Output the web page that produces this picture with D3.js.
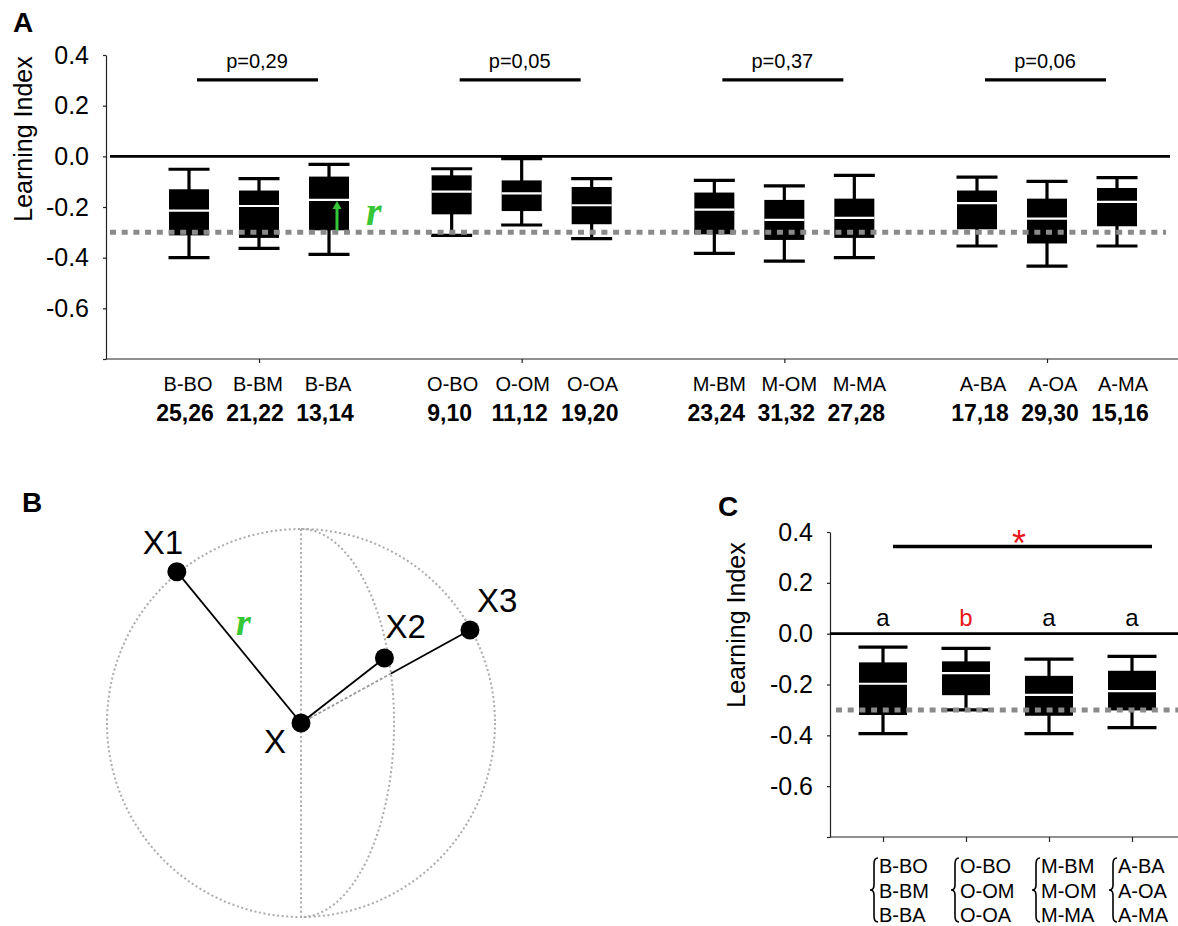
<!DOCTYPE html>
<html><head><meta charset="utf-8">
<script src="https://cdn.jsdelivr.net/npm/d3@7"></script>
<style>
body{margin:0;background:#fff}
svg{display:block}
text{font-family:"Liberation Sans",Arial,Helvetica,sans-serif}
</style>
</head><body>
<svg id="chart" width="1178" height="926"></svg>
<script>
// ---------------- DATA ----------------
// Panel A
const groupsA = ["B", "O", "M", "A"];
const categoriesA = ["B-BO","B-BM","B-BA","O-BO","O-OM","O-OA","M-BM","M-OM","M-MA","A-BA","A-OA","A-MA"];
const sampleIdsA = ["25,26","21,22","13,14","9,10","11,12","19,20","23,24","31,32","27,28","17,18","29,30","15,16"];
const whiskerHighA = [-0.051,-0.088,-0.032,-0.049,-0.009,-0.088,-0.095,-0.117,-0.075,-0.082,-0.099,-0.084];
const q3A          = [-0.130,-0.135,-0.080,-0.075,-0.095,-0.121,-0.143,-0.172,-0.167,-0.135,-0.167,-0.125];
const medianA      = [-0.214,-0.196,-0.172,-0.139,-0.146,-0.193,-0.210,-0.251,-0.243,-0.185,-0.246,-0.180];
const q1A          = [-0.312,-0.322,-0.292,-0.229,-0.216,-0.268,-0.308,-0.330,-0.322,-0.288,-0.344,-0.276];
const whiskerLowA  = [-0.400,-0.363,-0.387,-0.312,-0.271,-0.325,-0.383,-0.414,-0.400,-0.354,-0.433,-0.354];
const pValuesA = ["p=0,29","p=0,05","p=0,37","p=0,06"];

// Shared axis ticks
const yTickValues = [0.4, 0.2, 0.0, -0.2, -0.4, -0.6, -0.8];
const yTickLabels = ["0.4","0.2","0.0","-0.2","-0.4","-0.6",""];
const chanceLevel = -0.3;
const yLabel = "Learning Index";

// Panel C
const groupsC = ["B", "O", "M", "A"];
const whiskerHighC = [-0.053,-0.058,-0.100,-0.089];
const q3C          = [-0.113,-0.109,-0.166,-0.146];
const medianC      = [-0.197,-0.155,-0.241,-0.226];
const q1C          = [-0.320,-0.242,-0.323,-0.302];
const whiskerLowC  = [-0.393,-0.300,-0.393,-0.370];
const lettersC = ["a","b","a","a"];
const letterColorsC = ["#000","#e8171b","#000","#000"];
const memberLabelsC = [["B-BO","B-BM","B-BA"],["O-BO","O-OM","O-OA"],["M-BM","M-OM","M-MA"],["A-BA","A-OA","A-MA"]];

// Panel B (diagram, unit-circle coordinates)
const nodeNames = ["X","X1","X2","X3"];
const nodeUx = [0, -0.64, 0.43, 0.871];
const nodeUy = [0, 0.78, 0.335, 0.479];

// ---------------- DRAW ----------------
const svg = d3.select("#chart");
const GREEN = "#35c735";
const DOT_GRAY = "#8a8a8a";

function drawYAxis(g, y, x0) {
  const ax = g.append("g").attr("transform", `translate(${x0},0)`)
    .call(d3.axisLeft(y).tickValues(yTickValues)
      .tickFormat((d, i) => yTickLabels[i]).tickSize(3).tickSizeOuter(0).tickPadding(14));
  ax.select(".domain").attr("stroke", "#222").attr("stroke-width", 1.2);
  ax.selectAll(".tick line").attr("stroke", "#222").attr("stroke-width", 1.2);
  ax.selectAll(".tick text").attr("font-size", 25).attr("fill", "#000")
    .style("font-family", '"Liberation Sans",Arial,sans-serif');
}

function drawBoxes(g, xs, y, wh, q3, med, q1, wl, w, capW) {
  const n = xs.length;
  for (let i = 0; i < n; i++) {
    const cx = xs[i];
    g.append("line").attr("x1", cx).attr("x2", cx).attr("y1", y(wh[i])).attr("y2", y(wl[i]))
      .attr("stroke", "#000").attr("stroke-width", 3.2);
    [wh[i], wl[i]].forEach(v => {
      g.append("line").attr("x1", cx - capW/2).attr("x2", cx + capW/2)
        .attr("y1", y(v)).attr("y2", y(v)).attr("stroke", "#000").attr("stroke-width", 3.2);
    });
    g.append("rect").attr("x", cx - w/2).attr("width", w)
      .attr("y", y(q3[i])).attr("height", y(q1[i]) - y(q3[i])).attr("fill", "#000");
    g.append("line").attr("x1", cx - w/2).attr("x2", cx + w/2)
      .attr("y1", y(med[i])).attr("y2", y(med[i])).attr("stroke", "#fff").attr("stroke-width", 2.2);
  }
}

// ===== Panel A =====
const gA = svg.append("g");
const yA = d3.scaleLinear().domain([-0.8, 0.4]).range([359, 55]);
const gxA = d3.scalePoint().domain(groupsA).range([259, 1047]);
const subX = d3.scalePoint().domain([0, 1, 2]).range([-70, 70]);
const xAof = i => gxA(groupsA[Math.floor(i / 3)]) + subX(i % 3);
const xsA = categoriesA.map((c, i) => xAof(i));
const labelShiftA = [-1, 1, 5, 6]; // small per-group text nudges (layout)

gA.append("text").text("A").attr("x", 13).attr("y", 32)
  .attr("font-size", 28).attr("font-weight", "bold");

drawYAxis(gA, yA, 106);
// x axis
gA.append("line").attr("x1", 106).attr("x2", 1178).attr("y1", yA(-0.8)).attr("y2", yA(-0.8))
  .attr("stroke", "#222").attr("stroke-width", 1.2);
const xAxA = gA.append("g").attr("transform", `translate(0,${yA(-0.8)})`)
  .call(d3.axisBottom(gxA).tickSize(4).tickFormat(""));
xAxA.select(".domain").remove();
xAxA.selectAll(".tick line").attr("stroke", "#222").attr("stroke-width", 1.2);

gA.append("text").text(yLabel).attr("transform", `translate(32,139) rotate(-90)`)
  .attr("text-anchor", "middle").attr("font-size", 25);

// zero line
gA.append("line").attr("x1", 110).attr("x2", 1170).attr("y1", yA(0)).attr("y2", yA(0))
  .attr("stroke", "#000").attr("stroke-width", 2.6);

drawBoxes(gA, xsA, yA, whiskerHighA, q3A, medianA, q1A, whiskerLowA, 40, 41);

// chance line
gA.append("line").attr("x1", 110).attr("x2", 1166).attr("y1", yA(chanceLevel)).attr("y2", yA(chanceLevel))
  .attr("stroke", DOT_GRAY).attr("stroke-width", 5).attr("stroke-dasharray", "6,5.7");

// p-value bars
groupsA.forEach((gname, i) => {
  const cx = gxA(gname);
  gA.append("line").attr("x1", cx - 62).attr("x2", cx + 59).attr("y1", yA(0.302)).attr("y2", yA(0.302))
    .attr("stroke", "#000").attr("stroke-width", 3.4);
  gA.append("text").text(pValuesA[i]).attr("x", cx - 2).attr("y", 68)
    .attr("text-anchor", "middle").attr("font-size", 20);
});

// category labels
categoriesA.forEach((c, i) => {
  const sh = labelShiftA[Math.floor(i / 3)];
  gA.append("text").text(c).attr("x", xsA[i] + sh).attr("y", 391)
    .attr("text-anchor", "middle").attr("font-size", 20);
  gA.append("text").text(sampleIdsA[i]).attr("x", xsA[i] + sh - 3).attr("y", 421)
    .attr("text-anchor", "middle").attr("font-size", 23).attr("font-weight", "bold");
});

// green arrow r (from chance level to B-BA median)
{
  const ax = xsA[2] + 8;
  const yb = yA(chanceLevel) - 2, yt = yA(medianA[2]) + 1;
  gA.append("line").attr("x1", ax).attr("x2", ax).attr("y1", yb).attr("y2", yt + 7)
    .attr("stroke", GREEN).attr("stroke-width", 3);
  gA.append("path").attr("d", `M${ax - 4.5},${yt + 8} L${ax},${yt} L${ax + 4.5},${yt + 8} Z`).attr("fill", GREEN);
  gA.append("text").text("r").attr("x", xsA[2] + 37).attr("y", yA(chanceLevel) - 7)
    .attr("font-size", 40).attr("font-weight", "bold").attr("font-style", "italic")
    .style("font-family", '"Liberation Serif","Times New Roman",serif').attr("fill", GREEN);
}

// ===== Panel B =====
const gB = svg.append("g");
gB.append("text").text("B").attr("x", 22).attr("y", 512).attr("font-size", 28).attr("font-weight", "bold");
const R = 194, cxB = 301, cyB = 723;
const ux = d3.scaleLinear().domain([-1, 1]).range([cxB - R, cxB + R]);
const uy = d3.scaleLinear().domain([-1, 1]).range([cyB + R, cyB - R]);
const circGray = "#ababab";
gB.append("circle").attr("cx", ux(0)).attr("cy", uy(0)).attr("r", R)
  .attr("fill", "none").attr("stroke", circGray).attr("stroke-width", 2).attr("stroke-dasharray", "2,2.6");
gB.append("line").attr("x1", ux(0)).attr("x2", ux(0)).attr("y1", uy(1)).attr("y2", uy(-1))
  .attr("stroke", circGray).attr("stroke-width", 2).attr("stroke-dasharray", "2,2.6");
const mer = 0.48; // meridian half-width (unit)
gB.append("path")
  .attr("d", `M${ux(0)},${uy(1)} A${ux(mer) - ux(0)},${R} 0 0 1 ${ux(0)},${uy(-1)}`)
  .attr("fill", "none").attr("stroke", circGray).attr("stroke-width", 2).attr("stroke-dasharray", "2,2.6");

const nodes = nodeNames.map((n, i) => ({ name: n, x: ux(nodeUx[i]), y: uy(nodeUy[i]), u: nodeUx[i], v: nodeUy[i] }));
const [nX, nX1, nX2, nX3] = nodes;
// intersection of X->X3 with meridian
const sInt = 1 / Math.sqrt((nX3.u / mer) ** 2 + nX3.v ** 2);
const ip = { x: ux(nX3.u * sInt), y: uy(nX3.v * sInt) };
gB.append("line").attr("x1", nX.x).attr("y1", nX.y).attr("x2", ip.x).attr("y2", ip.y)
  .attr("stroke", "#9a9a9a").attr("stroke-width", 1.8).attr("stroke-dasharray", "3,2");
gB.append("line").attr("x1", ip.x).attr("y1", ip.y).attr("x2", nX3.x).attr("y2", nX3.y)
  .attr("stroke", "#000").attr("stroke-width", 1.8);
[nX1, nX2].forEach(nd => {
  gB.append("line").attr("x1", nX.x).attr("y1", nX.y).attr("x2", nd.x).attr("y2", nd.y)
    .attr("stroke", "#000").attr("stroke-width", 1.8);
});
nodes.forEach(nd => {
  gB.append("circle").attr("cx", nd.x).attr("cy", nd.y).attr("r", 9.5).attr("fill", "#000");
});
const lab = (t, x, y, anchor) => gB.append("text").text(t).attr("x", x).attr("y", y)
  .attr("font-size", 33).attr("text-anchor", anchor);
lab("X1", nX1.x - 14, nX1.y - 18, "middle");
lab("X2", nX2.x + 1, nX2.y - 20, "start");
lab("X3", nX3.x + 7, nX3.y - 18, "start");
lab("X", nX.x - 15, nX.y + 30, "end");
gB.append("text").text("r").attr("x", (nX.x + nX1.x) / 2 - 3).attr("y", (nX.y + nX1.y) / 2 - 12)
  .attr("font-size", 38).attr("font-weight", "bold").attr("font-style", "italic")
  .style("font-family", '"Liberation Serif","Times New Roman",serif').attr("fill", GREEN);

// ===== Panel C =====
const gC = svg.append("g");
gC.append("text").text("C").attr("x", 718).attr("y", 516).attr("font-size", 28).attr("font-weight", "bold");
const yC = d3.scaleLinear().domain([-0.8, 0.4]).range([837, 532]);
const gxC = d3.scalePoint().domain(groupsC).range([883, 1132]);
const xsC = groupsC.map(g => gxC(g));
drawYAxis(gC, yC, 830);
gC.append("line").attr("x1", 830).attr("x2", 1178).attr("y1", yC(-0.8)).attr("y2", yC(-0.8))
  .attr("stroke", "#222").attr("stroke-width", 1.2);
const xAxC = gC.append("g").attr("transform", `translate(0,${yC(-0.8)})`)
  .call(d3.axisBottom(gxC).tickSize(5).tickFormat(""));
xAxC.select(".domain").remove();
xAxC.selectAll(".tick line").attr("stroke", "#222").attr("stroke-width", 1.2);

gC.append("text").text(yLabel).attr("transform", `translate(745,625) rotate(-90)`)
  .attr("text-anchor", "middle").attr("font-size", 25);

gC.append("line").attr("x1", 830).attr("x2", 1178).attr("y1", yC(0)).attr("y2", yC(0))
  .attr("stroke", "#000").attr("stroke-width", 2.6);

drawBoxes(gC, xsC, yC, whiskerHighC, q3C, medianC, q1C, whiskerLowC, 48, 49);

gC.append("line").attr("x1", 836).attr("x2", 1178).attr("y1", yC(chanceLevel)).attr("y2", yC(chanceLevel))
  .attr("stroke", DOT_GRAY).attr("stroke-width", 5).attr("stroke-dasharray", "6,5.7");

// letters
lettersC.forEach((l, i) => {
  gC.append("text").text(l).attr("x", xsC[i]).attr("y", 626).attr("text-anchor", "middle")
    .attr("font-size", 24).attr("fill", letterColorsC[i]);
});
// significance bar
gC.append("line").attr("x1", 893).attr("x2", 1152).attr("y1", yC(0.343)).attr("y2", yC(0.343))
  .attr("stroke", "#000").attr("stroke-width", 3.6);
gC.append("text").text("*").attr("x", 1019).attr("y", 556).attr("text-anchor", "middle")
  .attr("font-size", 36).attr("fill", "#e8171b");

// member labels with braces
const braceShift = [-13, -15, -17, -23];
memberLabelsC.forEach((arr, i) => {
  const bx = xsC[i] + braceShift[i];
  const y0 = 858, y1 = 922, mid = (y0 + y1) / 2, w = 8;
  gC.append("path").attr("d",
    `M${bx + w},${y0} Q${bx + w/2},${y0} ${bx + w/2},${y0 + 6} L${bx + w/2},${mid - 5} Q${bx + w/2},${mid} ${bx},${mid} ` +
    `Q${bx + w/2},${mid} ${bx + w/2},${mid + 5} L${bx + w/2},${y1 - 6} Q${bx + w/2},${y1} ${bx + w},${y1}`)
    .attr("fill", "none").attr("stroke", "#000").attr("stroke-width", 1.6);
  arr.forEach((t, j) => {
    gC.append("text").text(t).attr("x", bx + 9).attr("y", 873 + j * 24.5).attr("font-size", 20);
  });
});
</script>
</body></html>
